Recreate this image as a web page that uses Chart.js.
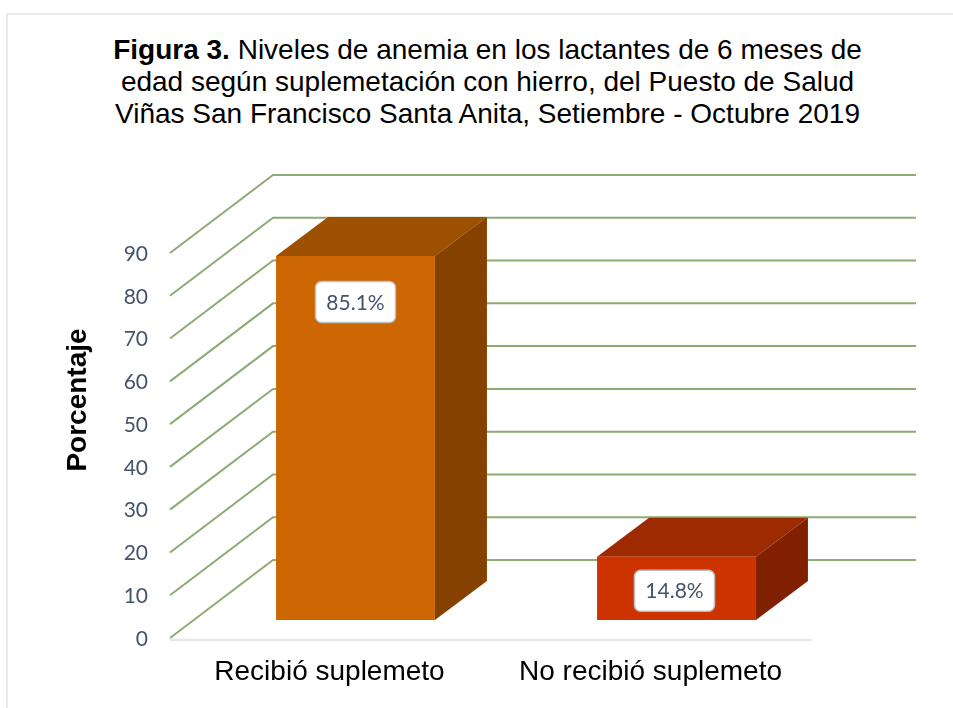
<!DOCTYPE html>
<html lang="es"><head><meta charset="utf-8">
<style>
html,body{margin:0;padding:0;background:#fff;width:953px;height:708px;overflow:hidden}
#frame{position:absolute;left:6px;top:13px;width:960px;height:720px;border:2px solid #e6e9ee;box-sizing:border-box}
#title{position:absolute;left:0;top:34px;width:975px;text-align:center;font:28px/32px "Liberation Sans",Arial,sans-serif;color:#000;white-space:nowrap}
canvas{position:absolute;left:0;top:0}
</style>
<script src="https://cdn.jsdelivr.net/npm/chart.js@4"></script>
</head><body>
<div id="frame"></div>
<div id="title"><b>Figura 3.</b> Niveles de anemia en los lactantes de 6 meses de<br>edad según suplemetación con hierro, del Puesto de Salud<br>Viñas San Francisco Santa Anita, Setiembre - Octubre 2019</div>
<canvas id="c" width="953" height="708"></canvas>
<script>
const categories = ["Recibió suplemeto", "No recibió suplemeto"];
const values = [85.1, 14.8];
const valueLabels = ["85.1%", "14.8%"];
const yTicks = [0, 10, 20, 30, 40, 50, 60, 70, 80, 90];
const yTitle = "Porcentaje";

const frontColors = ["#cc6600", "#cc3300"];
const topColors = ["#9c5000", "#9e2a00"];
const sideColors = ["#844100", "#802000"];
const labelDrop = [46, 34];
const labelShift = [0, -2];
const GRID = "#8dac73", TICK = "#44546a";
const FLOOR_FRONT = {dx: -25, dy: 18}, WALL = {dx: 78, dy: -60}, BAR_DEPTH = {dx: 52, dy: -39};

function poly(ctx, pts, fill) {
  ctx.beginPath();
  pts.forEach((p, i) => i ? ctx.lineTo(p[0], p[1]) : ctx.moveTo(p[0], p[1]));
  ctx.closePath();
  ctx.fillStyle = fill;
  ctx.fill();
}

const box3d = {
  id: "box3d",
  beforeDatasetsDraw(chart) {
    const {ctx, chartArea: a, scales: {y}} = chart;
    ctx.save();
    // floor edge
    ctx.strokeStyle = "#e4e7ec"; ctx.lineWidth = 2.5;
    ctx.beginPath();
    ctx.moveTo(a.left + FLOOR_FRONT.dx, a.bottom + FLOOR_FRONT.dy + 2);
    ctx.lineTo(a.right + FLOOR_FRONT.dx, a.bottom + FLOOR_FRONT.dy + 2);
    ctx.stroke();
    // wall grid
    ctx.strokeStyle = GRID; ctx.lineWidth = 2;
    yTicks.forEach(v => {
      const py = y.getPixelForValue(v);
      ctx.beginPath();
      ctx.moveTo(a.left + FLOOR_FRONT.dx, py + FLOOR_FRONT.dy);
      ctx.lineTo(a.left + WALL.dx, py + WALL.dy);
      ctx.lineTo(a.right + WALL.dx + 1, py + WALL.dy);
      ctx.stroke();
    });
    // box faces
    chart.getDatasetMeta(0).data.forEach((bar, i) => {
      const l = bar.x - bar.width / 2, r = bar.x + bar.width / 2, t = bar.y, b = bar.base;
      const dx = BAR_DEPTH.dx, dy = BAR_DEPTH.dy;
      poly(ctx, [[l, t], [r, t], [r + dx, t + dy], [l + dx, t + dy]], topColors[i]);
      poly(ctx, [[r, t], [r + dx, t + dy], [r + dx, b + dy], [r, b]], sideColors[i]);
    });
    ctx.restore();
  },
  afterDatasetsDraw(chart) {
    const {ctx} = chart;
    ctx.save();
    chart.getDatasetMeta(0).data.forEach((bar, i) => {
      const w = 80, h = 41, cx = bar.x + labelShift[i], cy = bar.y + labelDrop[i];
      ctx.beginPath();
      ctx.roundRect(cx - w / 2, cy - h / 2, w, h, 6);
      ctx.fillStyle = "#fff"; ctx.fill();
      ctx.strokeStyle = "#bfbfbf"; ctx.lineWidth = 1.5; ctx.stroke();
      ctx.fillStyle = TICK;
      ctx.font = '21px Lato, "Open Sans", sans-serif';
      ctx.textAlign = "center"; ctx.textBaseline = "middle";
      ctx.fillText(valueLabels[i], cx, cy + 1);
    });
    // rotated axis title
    ctx.translate(78, 400);
    ctx.rotate(-Math.PI / 2);
    ctx.fillStyle = "#000";
    ctx.font = 'bold 28px "Liberation Sans", Arial, sans-serif';
    ctx.textAlign = "center"; ctx.textBaseline = "middle";
    ctx.fillText(yTitle, 0, 0);
    ctx.restore();
  }
};

new Chart(document.getElementById("c"), {
  type: "bar",
  data: {
    labels: categories,
    datasets: [{
      data: values,
      backgroundColor: frontColors,
      borderWidth: 0,
      barPercentage: 0.495,
      categoryPercentage: 1
    }]
  },
  options: {
    responsive: false,
    animation: false,
    devicePixelRatio: 1,
    layout: {autoPadding: false, padding: {top: 235, right: 116, left: 0, bottom: 0}},
    plugins: {legend: {display: false}, tooltip: {enabled: false}},
    scales: {
      x: {
        grid: {display: false},
        border: {display: false},
        afterFit(s) { s.height = 88; },
        ticks: {
          color: "#000",
          font: {family: '"Liberation Sans", Arial, sans-serif', size: 28},
          labelOffset: -26,
          padding: 27,
          autoSkip: false,
          maxRotation: 0
        }
      },
      y: {
        min: 0, max: 90,
        grid: {display: false},
        border: {display: false},
        afterFit(s) { s.width = 195; },
        ticks: {
          stepSize: 10,
          color: TICK,
          font: {family: 'Lato, "Open Sans", sans-serif', size: 21},
          labelOffset: 19,
          padding: 39
        }
      }
    }
  },
  plugins: [box3d]
});
</script>
</body></html>
